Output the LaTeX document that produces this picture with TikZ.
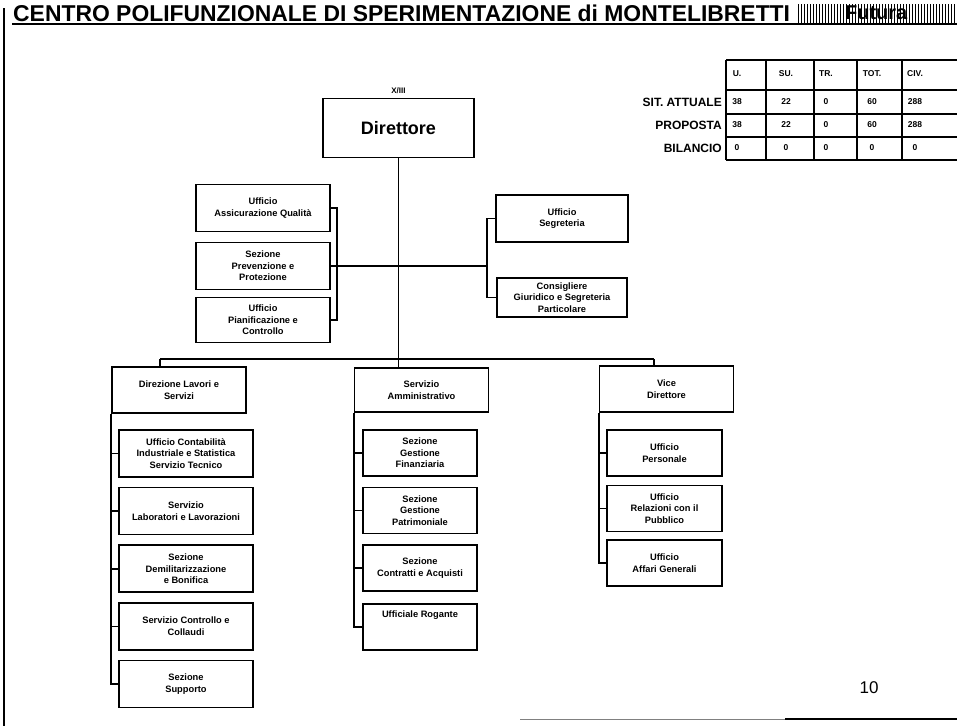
\documentclass[tikz,border=0pt]{standalone}
\usepackage{fontspec}
\setmainfont{Liberation Sans}
\usetikzlibrary{positioning,patterns}

\begin{document}
\begin{tikzpicture}[x=1pt, y=-1pt, node distance=9pt, auto]
    % Define styles
    \tikzstyle{unit} = [rectangle, draw=black, line width=1.6pt, text centered, align=center, inner sep=1pt, font=\fontsize{9.3}{11.5}\selectfont\bfseries]
    \tikzstyle{staff} = [unit, minimum width=134pt, minimum height=47pt]
    \tikzstyle{head} = [unit, minimum width=134pt, minimum height=46pt]
    \tikzstyle{sub} = [unit, minimum width=134pt, minimum height=47pt]
    \tikzstyle{subnarrow} = [unit, minimum width=115pt, minimum height=46pt]
    \tikzstyle{link} = [line width=1.6pt]
    \tikzstyle{cell} = [font=\fontsize{8.5}{9}\selectfont\bfseries, inner sep=0pt]
    \tikzstyle{rowlabel} = [font=\fontsize{12}{14}\selectfont\bfseries, anchor=east, inner sep=0pt]

    \useasboundingbox (0,0) rectangle (957,726);

    % Title and frame
    \node [anchor=west, inner sep=0pt, font=\fontsize{22.9}{25}\selectfont\bfseries] (title) at (13,13) {CENTRO POLIFUNZIONALE DI SPERIMENTAZIONE di MONTELIBRETTI};
    \node [anchor=west, inner sep=1pt, minimum width=158pt, minimum height=18pt, pattern=vertical lines, font=\fontsize{20}{22}\selectfont\bfseries] (logo) at (797,13) {Futura};
    \draw [line width=2pt] (12,23.5) -- (957,23.5);
    \draw [line width=1.5pt] (4,8) -- (4,726);
    \draw [line width=1pt, gray] (520,719) -- (785,719);
    \draw [line width=2pt] (785,719) -- (957,719);

    % Staffing table
    \foreach \y in {60,90,114,137,160}
        \draw [line width=1.4pt] (726,\y) -- (957,\y);
    \foreach \x in {726,766,814,857,902}
        \draw [line width=1.2pt] (\x,60) -- (\x,160);
    \foreach \t/\x [count=\i] in {U./737, SU./786, TR./826, TOT./872, CIV./915}
        \node [cell] (hd\i) at (\x,74) {\t};
    \foreach \x/\a [count=\i] in {737/38, 786/22, 826/0, 872/60, 915/288} {
        \node [cell] (sa\i) at (\x,102) {\a};
        \node [cell] (pr\i) at (\x,125) {\a};
        \node [cell] (bi\i) at (\x,148) {0};
    }
    \node [rowlabel] (sit) at (722,102) {SIT. ATTUALE};
    \node [rowlabel] (prop) at (722,125) {PROPOSTA};
    \node [rowlabel] (bil) at (722,148) {BILANCIO};

    % Director and staff offices
    \node [unit, minimum width=151pt, minimum height=59pt, font=\fontsize{18}{20}\selectfont\bfseries] (dir) at (398.5,128) {Direttore};
    \node [font=\fontsize{8}{9}\selectfont\bfseries, above=1pt of dir] (grade) {X/III};

    \node [staff] (aq) at (263,208) {Ufficio\\Assicurazione Qualità};
    \node [staff] (pp) at (263,266) {Sezione\\Prevenzione e\\Protezione};
    \node [staff, minimum height=45pt] (pc) at (263,320) {Ufficio\\Pianificazione e\\Controllo};
    \node [staff, minimum width=132pt] (us) at (562,218.5) {Ufficio\\Segreteria};
    \node [staff, minimum width=130pt, minimum height=39pt] (cg) at (562,297.5) {Consigliere\\Giuridico e Segreteria\\Particolare};

    % Department heads
    \node [head] (dl) at (179,390) {Direzione Lavori e\\Servizi};
    \node [head, minimum height=44pt] (sa) at (421.5,390) {Servizio\\Amministrativo};
    \node [head] (vd) at (666.5,389) {Vice\\Direttore};

    % Left column
    \node [sub] (ls1) at (186,453.5) {Ufficio Contabilità\\Industriale e Statistica\\Servizio Tecnico};
    \node [sub, below=of ls1] (ls2) {Servizio\\Laboratori e Lavorazioni};
    \node [sub, below=of ls2] (ls3) {Sezione\\Demilitarizzazione\\e Bonifica};
    \node [sub, below=of ls3] (ls4) {Servizio Controllo e\\Collaudi};
    \node [sub, below=of ls4] (ls5) {Sezione\\Supporto};

    % Middle column
    \node [subnarrow, minimum width=114pt] (ms1) at (420,453) {Sezione\\Gestione\\Finanziaria};
    \node [subnarrow, minimum width=114pt, below=10pt of ms1] (ms2) {Sezione\\Gestione\\Patrimoniale};
    \node [subnarrow, minimum width=114pt, below=10pt of ms2] (ms3) {Sezione\\Contratti e Acquisti};
    \node [subnarrow, minimum width=114pt, below=11pt of ms3] (ms4) {Ufficiale Rogante\\[14pt]~};

    % Right column
    \node [subnarrow] (rs1) at (664.5,453) {Ufficio\\Personale};
    \node [subnarrow, below=8pt of rs1] (rs2) {Ufficio\\Relazioni con il\\Pubblico};
    \node [subnarrow, below=7pt of rs2] (rs3) {Ufficio\\Affari Generali};

    % Connectors
    \coordinate (busL) at (160,359);
    \coordinate (busR) at (654,359);
    \coordinate (lbr) at (337,266);
    \coordinate (rbr) at (487,266);
    \draw [link] (dir.south) -- (dir.south |- sa.north);
    \draw [link] (busL) -- (busR);
    \draw [link] (busL) -- (busL |- dl.north);
    \draw [link] (busR) -- (busR |- vd.north);
    \draw [link] (aq.east) -| (lbr) |- (pc.east);
    \draw [link] (pp.east) -- (dir.south |- pp.east);
    \draw [link] (dir.south |- rbr) -- (rbr);
    \draw [link] (us.west) -| (rbr) |- (cg.west);

    \draw [link] (dl.south west) |- (ls5.west);
    \foreach \n in {ls1,ls2,ls3,ls4}
        \draw [link] (dl.west |- \n.west) -- (\n.west);
    \draw [link] (sa.south west) |- (ms4.west);
    \foreach \n in {ms1,ms2,ms3}
        \draw [link] (sa.west |- \n.west) -- (\n.west);
    \draw [link] (vd.south west) |- (rs3.west);
    \foreach \n in {rs1,rs2}
        \draw [link] (vd.west |- \n.west) -- (\n.west);

    % Page number
    \node [font=\fontsize{17}{18}\selectfont] (page) at (869,688) {10};
\end{tikzpicture}
\end{document}
